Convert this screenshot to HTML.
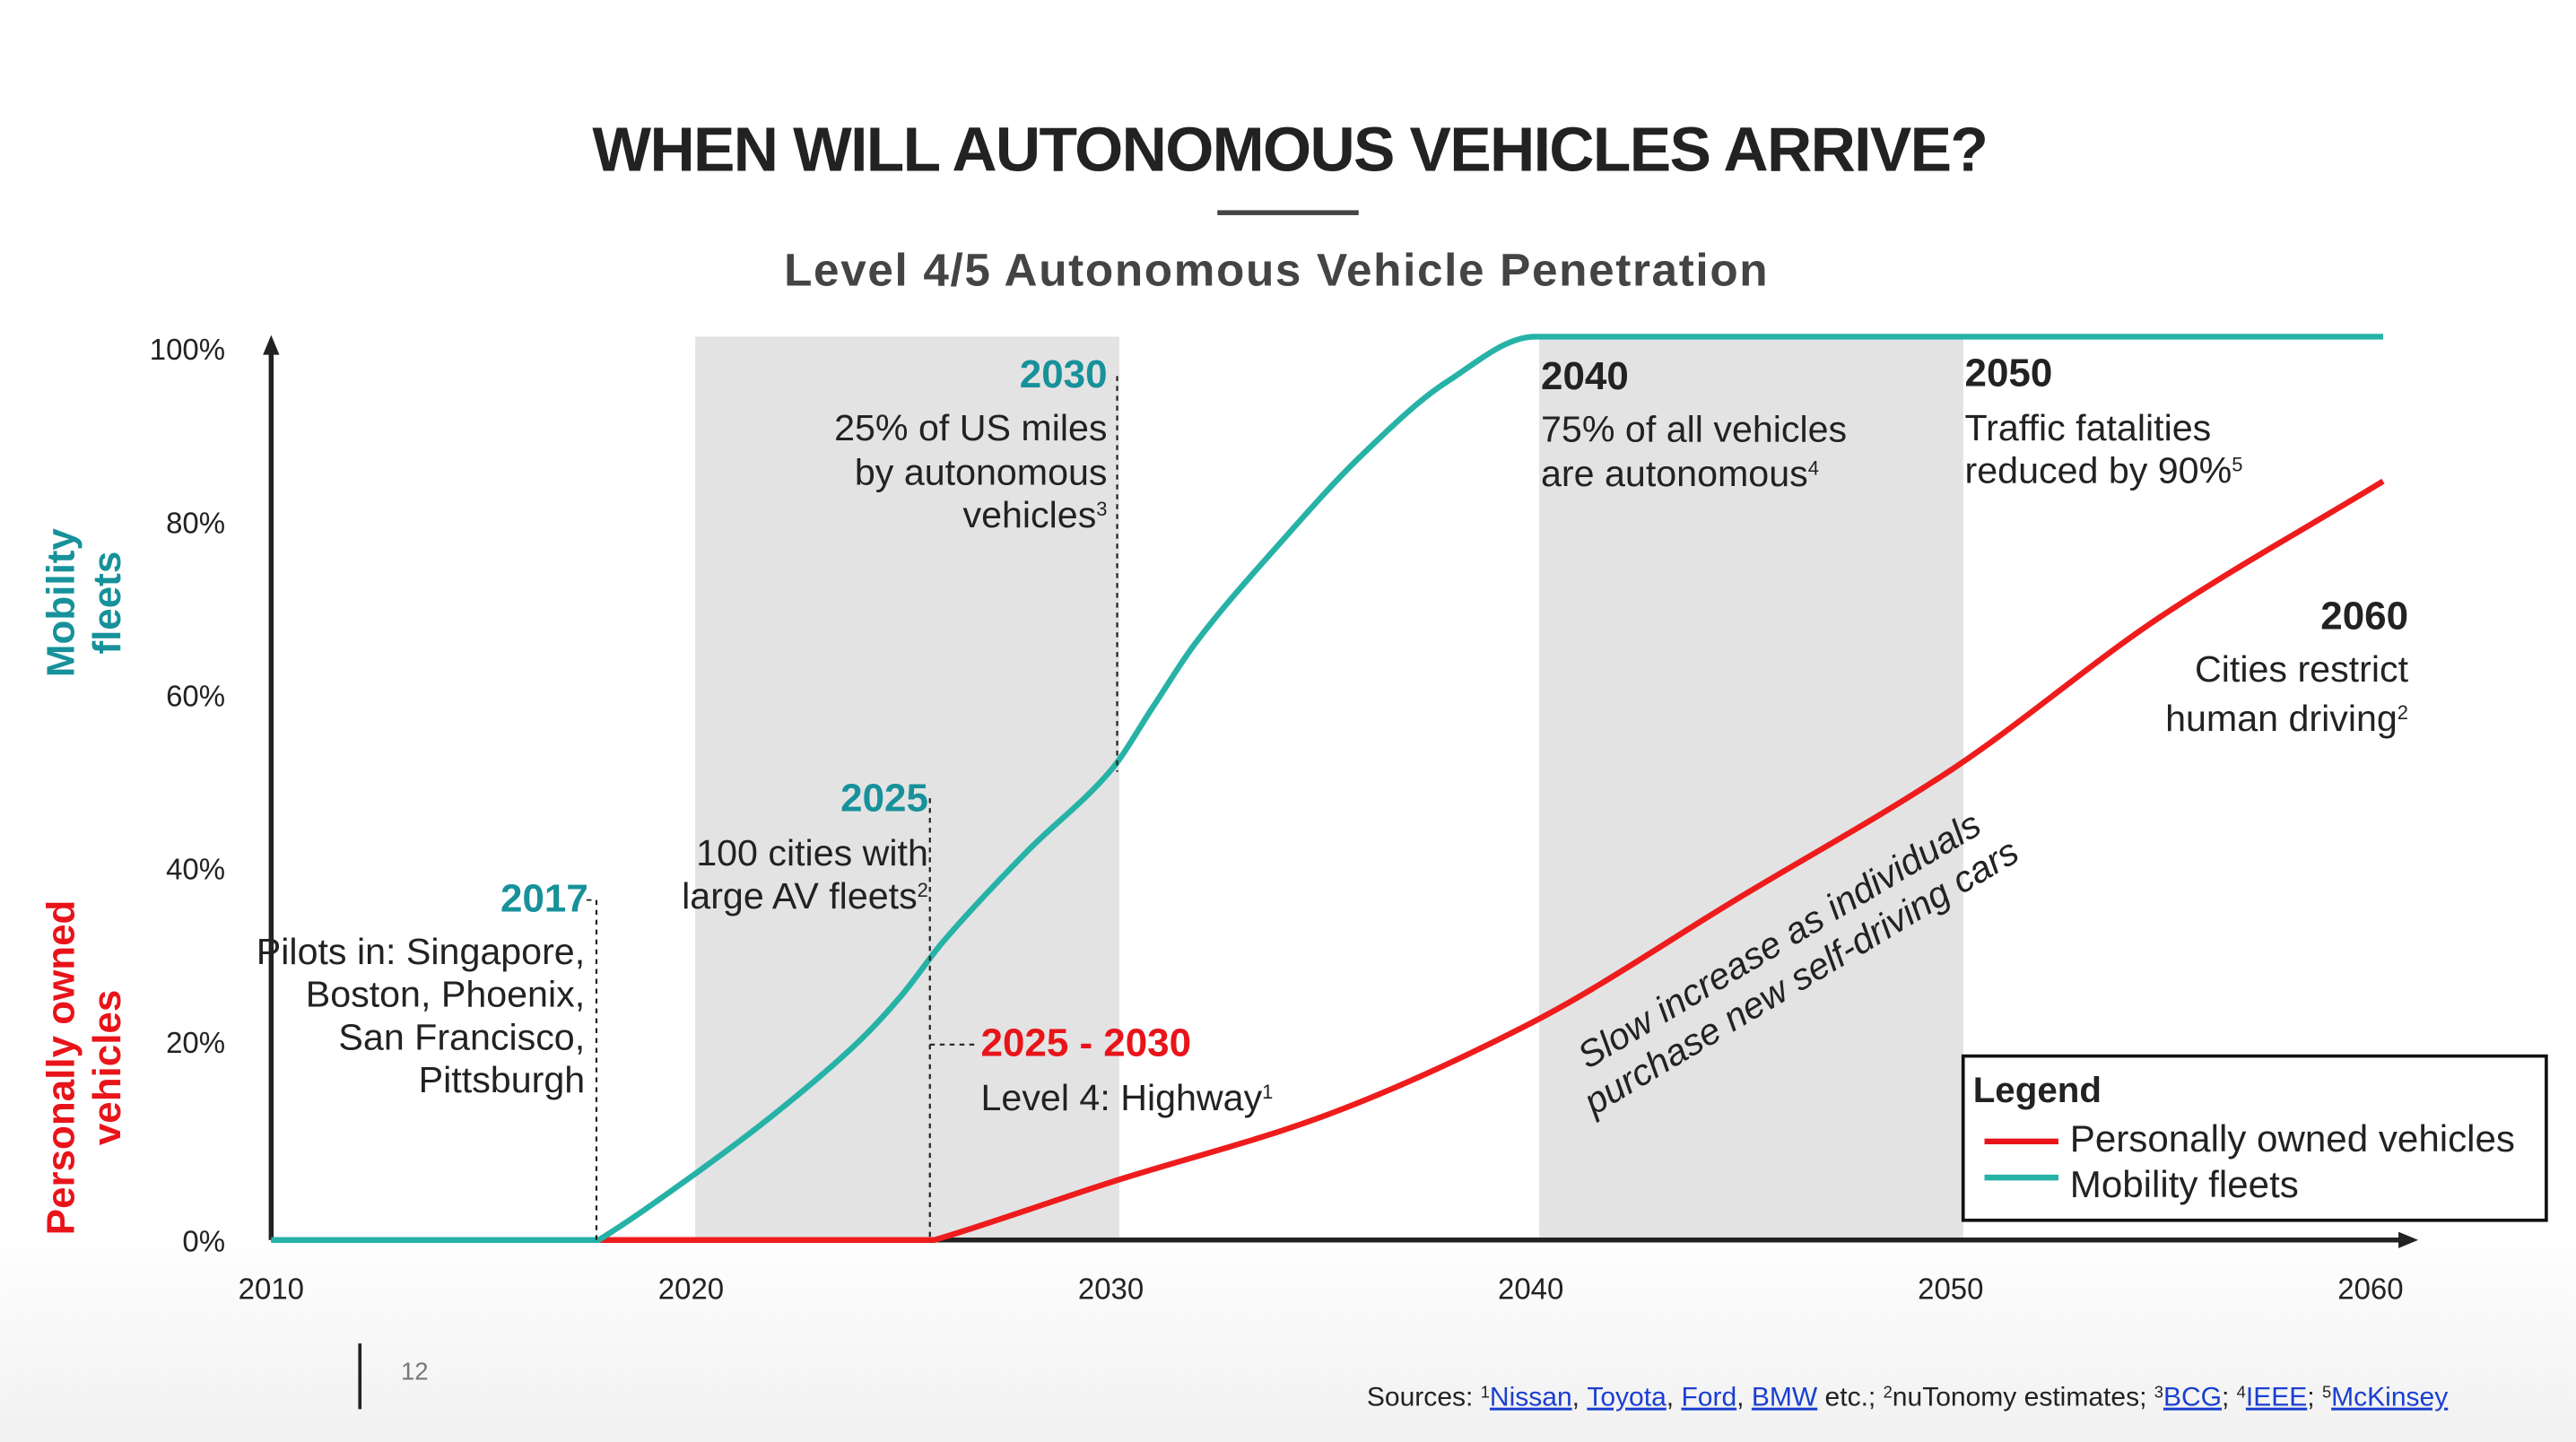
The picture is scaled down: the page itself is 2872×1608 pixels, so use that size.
<!DOCTYPE html>
<html><head><meta charset="utf-8"><style>
html,body{margin:0;padding:0;background:#fff;}
svg{display:block;font-family:"Liberation Sans",Arial,sans-serif;}
</style></head><body>
<svg width="2872" height="1608" viewBox="0 0 1568 878" xmlns="http://www.w3.org/2000/svg">
<defs>
<linearGradient id="bg" x1="0" y1="0" x2="0" y2="1">
<stop offset="0" stop-color="#ffffff"/><stop offset="0.85" stop-color="#ffffff"/><stop offset="1" stop-color="#f1f1f1"/>
</linearGradient>
</defs>
<rect width="1568" height="878" fill="url(#bg)"/>
<text x="785" y="104" text-anchor="middle" font-size="38" font-weight="bold" fill="#222" letter-spacing="-0.9">WHEN WILL AUTONOMOUS VEHICLES ARRIVE?</text>
<rect x="741" y="128" width="86" height="3" fill="#444"/>
<text x="777" y="174" text-anchor="middle" font-size="28" font-weight="bold" fill="#444" letter-spacing="0.9">Level 4/5 Autonomous Vehicle Penetration</text>
<g id="bands"></g>
<g id="axes"></g>
<g id="series"></g>
<g id="notes" font-size="22.5" fill="#222">
  <line x1="357" y1="548" x2="363" y2="548" stroke="#222" stroke-dasharray="3,3"/>
  <line x1="363" y1="548" x2="363" y2="755" stroke="#222" stroke-width="1.2" stroke-dasharray="3,3"/>
  <text x="358" y="555" text-anchor="end" font-size="24" font-weight="bold" fill="#17919a">2017</text>
  <g text-anchor="end">
    <text x="356" y="587">Pilots in: Singapore,</text><text x="356" y="613">Boston, Phoenix,</text>
    <text x="356" y="639">San Francisco,</text><text x="356" y="665">Pittsburgh</text>
  </g>
  <line x1="566" y1="486" x2="566" y2="755" stroke="#222" stroke-width="1.2" stroke-dasharray="3,3"/>
  <text x="565" y="494" text-anchor="end" font-size="24" font-weight="bold" fill="#17919a">2025</text>
  <g text-anchor="end">
    <text x="565" y="527">100 cities with</text><text x="565" y="553">large AV fleets<tspan font-size="12" dy="-7">2</tspan></text>
  </g>
  <line x1="680" y1="229" x2="680" y2="470" stroke="#222" stroke-width="1.2" stroke-dasharray="3,3"/>
  <text x="674" y="236" text-anchor="end" font-size="24" font-weight="bold" fill="#17919a">2030</text>
  <g text-anchor="end">
    <text x="674" y="268">25% of US miles</text><text x="674" y="295">by autonomous</text>
    <text x="674" y="321">vehicles<tspan font-size="12" dy="-7">3</tspan></text>
  </g>
  <line x1="566" y1="636" x2="595" y2="636" stroke="#222" stroke-width="1.2" stroke-dasharray="3,3"/>
  <text x="597" y="643" font-size="24" font-weight="bold" fill="#e8141a">2025 - 2030</text>
  <text x="597" y="676">Level 4: Highway<tspan font-size="12" dy="-7">1</tspan></text>
  <text x="938" y="237" font-size="24" font-weight="bold">2040</text>
  <g><text x="938" y="269">75% of all vehicles</text><text x="938" y="296">are autonomous<tspan font-size="12" dy="-7">4</tspan></text></g>
  <text x="1196" y="235" font-size="24" font-weight="bold">2050</text>
  <g><text x="1196" y="268">Traffic fatalities</text><text x="1196" y="294">reduced by 90%<tspan font-size="12" dy="-7">5</tspan></text></g>
  <text x="1466" y="383" text-anchor="end" font-size="24" font-weight="bold">2060</text>
  <g text-anchor="end"><text x="1466" y="415">Cities restrict</text><text x="1466" y="445">human driving<tspan font-size="12" dy="-7">2</tspan></text></g>
  <g transform="translate(1090,584) rotate(-31)" font-style="italic" text-anchor="middle">
    <text x="0" y="-6">Slow increase as individuals</text><text x="0" y="20">purchase new self-driving cars</text>
  </g>
</g>
<g>
  <rect x="1195" y="643" width="355" height="100" fill="#fff" stroke="#111" stroke-width="2"/>
  <text x="1201" y="671" font-size="22" font-weight="bold" fill="#222">Legend</text>
  <line x1="1208" y1="695" x2="1253" y2="695" stroke="#e8141a" stroke-width="3.5"/>
  <text x="1260" y="701" font-size="23" fill="#222">Personally owned vehicles</text>
  <line x1="1208" y1="717" x2="1253" y2="717" stroke="#26b2a7" stroke-width="3.5"/>
  <text x="1260" y="729" font-size="23" fill="#222">Mobility fleets</text>
</g>
<g font-size="24" font-weight="bold" text-anchor="middle">
  <g fill="#17919a">
    <text transform="translate(45,367) rotate(-90)">Mobility</text>
    <text transform="translate(73,367) rotate(-90)">fleets</text>
  </g>
  <g fill="#e8141a">
    <text transform="translate(45,650) rotate(-90)">Personally owned</text>
    <text transform="translate(73,650) rotate(-90)">vehicles</text>
  </g>
</g>
<line x1="219" y1="818" x2="219" y2="858" stroke="#222" stroke-width="2"/>
<text x="244" y="840" font-size="15" fill="#777">12</text>
<text x="832" y="856" font-size="16.4" fill="#222">Sources: <tspan font-size="10" dy="-5">1</tspan><tspan dy="5" fill="#1a3fd0" text-decoration="underline">Nissan</tspan>, <tspan fill="#1a3fd0" text-decoration="underline">Toyota</tspan>, <tspan fill="#1a3fd0" text-decoration="underline">Ford</tspan>, <tspan fill="#1a3fd0" text-decoration="underline">BMW</tspan> etc.; <tspan font-size="10" dy="-5">2</tspan><tspan dy="5">nuTonomy estimates; </tspan><tspan font-size="10" dy="-5">3</tspan><tspan dy="5" fill="#1a3fd0" text-decoration="underline">BCG</tspan>; <tspan font-size="10" dy="-5">4</tspan><tspan dy="5" fill="#1a3fd0" text-decoration="underline">IEEE</tspan>; <tspan font-size="10" dy="-5">5</tspan><tspan dy="5" fill="#1a3fd0" text-decoration="underline">McKinsey</tspan></text>
</svg>
<script>
const xTickLabels = [2010, 2020, 2030, 2040, 2050, 2060];
const yTickLabels = ["0%", "20%", "40%", "60%", "80%", "100%"];
const bandStarts = [2020.1, 2040.2];
const bandEnds = [2030.2, 2050.3];
const fleetYears = [2010, 2017.8, 2020, 2022, 2024, 2025, 2026, 2028, 2030, 2031, 2032, 2034, 2036, 2038, 2040.1, 2060.3];
const fleetValues = [0, 0, 7, 14, 22, 27, 33, 43, 52, 59, 66, 77, 87, 95, 100, 100];
const personalYears = [2017.8, 2025.8, 2030, 2035, 2040, 2045, 2050, 2055, 2060.3];
const personalValues = [0, 0, 6.4, 13.6, 24, 38, 52, 69, 84];

const NS = "http://www.w3.org/2000/svg";
const X0 = 165, X1 = 1443, Y0 = 755, Y1 = 205;
function xs(yr){ return X0 + (yr - 2010) / 50 * (X1 - X0); }
function ys(v){ return Y0 - v / 100 * (Y0 - Y1); }
function mk(tag, attrs, parent){ const e = document.createElementNS(NS, tag); for (const k in attrs) e.setAttribute(k, attrs[k]); parent.appendChild(e); return e; }

const bands = document.getElementById('bands');
bandStarts.forEach((s, i) => {
  const r = mk('rect', {x: xs(s), y: Y1, width: xs(bandEnds[i]) - xs(s), height: Y0 - Y1, fill: '#e3e3e3'}, bands);
  
  
});

const axes = document.getElementById('axes');
const ya = mk('line', {x1: X0, y1: Y0, x2: X0, y2: 212, stroke: '#222', 'stroke-width': 3}, axes);


const yarr = mk('path', {d: `M${X0-5},216 L${X0},204 L${X0+5},216 Z`, fill: '#222'}, axes);


const xa = mk('line', {x1: X0, y1: Y0, x2: 1462, y2: Y0, stroke: '#222', 'stroke-width': 3}, axes);


const xarr = mk('path', {d: `M1460,${Y0-5} L1472,${Y0} L1460,${Y0+5} Z`, fill: '#222'}, axes);


xTickLabels.forEach(t => {
  const e = mk('text', {x: xs(t), y: 791, 'text-anchor': 'middle', 'font-size': 18, fill: '#222'}, axes);
  e.textContent = t;
  
  
});
yTickLabels.forEach((t, i) => {
  const yy = i === 0 ? 762 : 213 + (5 - i) * 105.5 + 6;
  const e = mk('text', {x: 137, y: yy, 'text-anchor': 'end', 'font-size': 18, fill: '#222'}, axes);
  e.textContent = t;
  
  
});

function monoPath(xsArr, vsArr){
  const p = xsArr.map((yr, i) => [xs(yr), ys(vsArr[i])]);
  const n = p.length, d = [], m = [];
  for (let i = 0; i < n - 1; i++) d.push((p[i+1][1] - p[i][1]) / (p[i+1][0] - p[i][0]));
  for (let i = 0; i < n; i++){
    if (i === 0) m.push(d[0]);
    else if (i === n - 1) m.push(d[n-2]);
    else if (d[i-1] === 0 && d[i] !== 0) m.push(d[i] * 0.9);
    else if (d[i-1] * d[i] <= 0) m.push(0);
    else m.push(2 / (1 / d[i-1] + 1 / d[i]));
  }
  let s = `M${p[0][0]},${p[0][1]}`;
  for (let i = 0; i < n - 1; i++){
    if (d[i] === 0) { s += ` L${p[i+1][0]},${p[i+1][1]}`; continue; }
    const h = (p[i+1][0] - p[i][0]) / 3;
    s += ` C${p[i][0]+h},${p[i][1]+m[i]*h} ${p[i+1][0]-h},${p[i+1][1]-m[i+1]*h} ${p[i+1][0]},${p[i+1][1]}`;
  }
  return s;
}
const series = document.getElementById('series');
const red = mk('path', {d: monoPath(personalYears, personalValues), fill: 'none', stroke: '#ee1c1c', 'stroke-width': 3.5}, series);


const teal = mk('path', {d: monoPath(fleetYears, fleetValues), fill: 'none', stroke: '#26b2a7', 'stroke-width': 3.5}, series);


</script>
</body></html>
